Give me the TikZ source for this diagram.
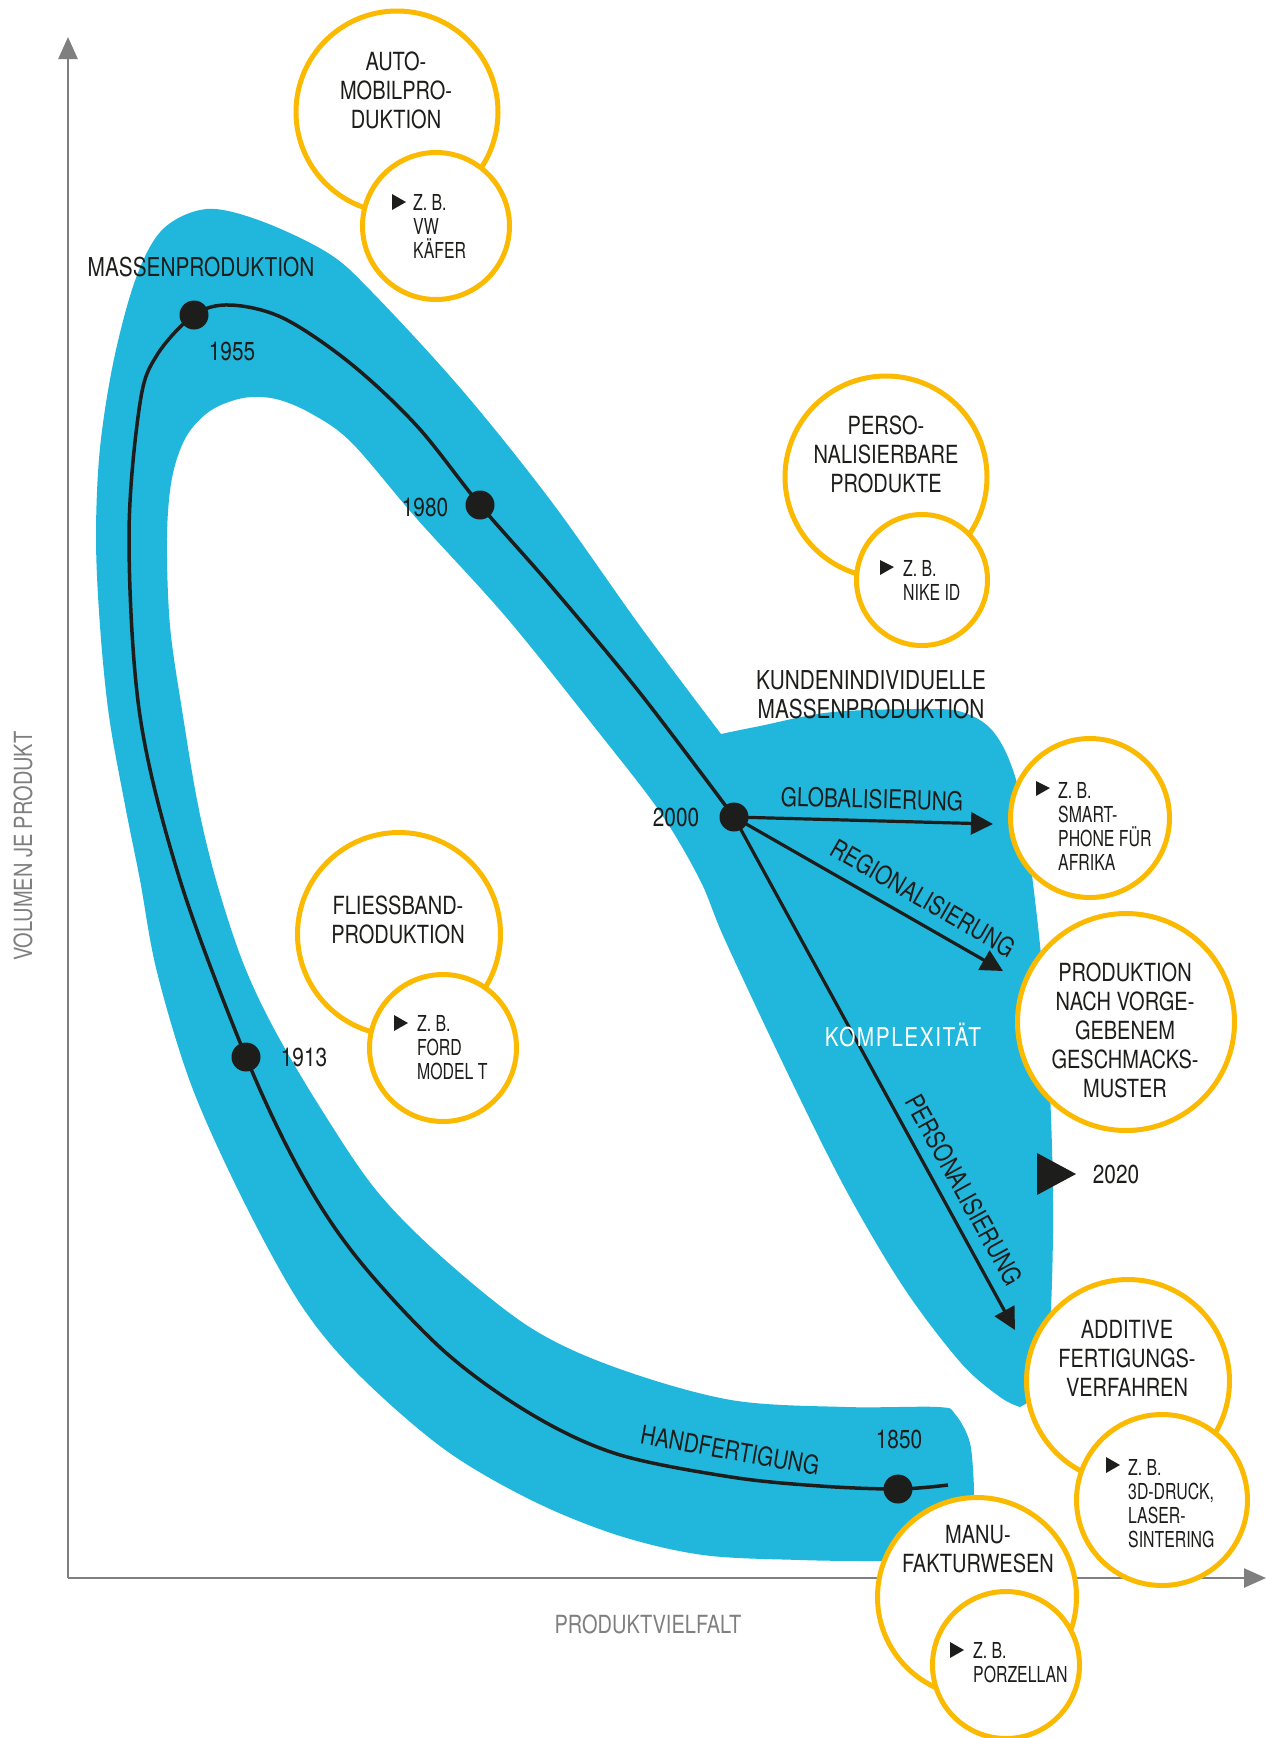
\documentclass[tikz,border=0pt]{standalone}
\usepackage{fontspec}
\setmainfont[FakeStretch=0.8]{TeX Gyre Heros}
\newfontfamily\smallfnt[FakeStretch=0.72]{TeX Gyre Heros}
\usetikzlibrary{arrows.meta}
\definecolor{blobblue}{HTML}{21B7DC}
\definecolor{ringyel}{HTML}{FBBA00}
\definecolor{ink}{HTML}{1D1D1B}
\definecolor{axisgray}{HTML}{7F7F7F}
\begin{document}
\begin{tikzpicture}[x=1pt,y=-1pt,
  bigring/.style={circle, draw=ringyel, line width=5pt, fill=white, inner sep=0pt},
  bigtext/.style={align=center, inner sep=0pt, text=ink, font=\fontsize{25pt}{29pt}\selectfont},
  smalltext/.style={anchor=north west, align=left, inner sep=0pt, text=ink, font=\smallfnt\fontsize{22pt}{24pt}\selectfont},
  lbl/.style={inner sep=0pt, text=ink, font=\fontsize{26pt}{29pt}\selectfont},
  axislbl/.style={inner sep=0pt, text=axisgray, font=\fontsize{25pt}{29pt}\selectfont},
  dot/.style={circle, fill=ink, inner sep=0pt, minimum size=29pt},
  axisline/.style={draw=axisgray, line width=2.5pt, -{Triangle[length=22pt,width=19pt]}},
  arrowline/.style={draw=ink, line width=3.2pt, -{Triangle[length=22pt,width=22pt]}}
]
\useasboundingbox (0,0) rectangle (1266,1738);
\fill[white] (0,0) rectangle (1266,1738);

% axes
\coordinate (origin) at (68,1578);
\coordinate (ytip) at (68,37);
\coordinate (xtip) at (1266,1578);
\draw[axisline] (origin) -- (ytip);
\draw[axisline] (origin) -- (xtip);
\node[axislbl, rotate=90] (ylab) at (23,846) {VOLUMEN JE PRODUKT};
\node[axislbl] (xlab) at (648,1624) {PRODUKTVIELFALT};

% blue band
\fill[blobblue] plot[smooth, tension=0.55] coordinates {(1020,1407) (1040,1390) (1049,1345) (1053,1232) (1051,1117) (1044,990) (1035,900) (1022,805) (1008,757) (990,728) (965,713) (933,709) (833,712) (760,726) (721,734)}
 -- plot[smooth, tension=0.55] coordinates {(721,734) (640,626) (551,501) (462,390) (372,292) (328,253) (261,221) (207,209) (163,229) (136,278) (114,359) (100,448) (96,537) (100,626) (109,716) (125,805) (140,880) (157,972) (192,1087) (244,1202) (301,1305) (358,1374) (444,1449) (531,1500) (617,1535) (703,1555) (800,1560) (875,1561) (945,1560) (968,1542) (974,1489)}
 -- plot[smooth, tension=0.55] coordinates {(974,1489) (970,1443) (955,1414) (938,1407) (846,1407) (731,1400) (617,1368) (531,1328) (444,1259) (376,1190) (318,1104) (272,1025) (242,960) (216,880) (198,805) (183,716) (170,626) (167,537) (172,478) (186,437) (210,411) (243,398) (276,399) (312,414) (352,443) (417,519) (506,617) (596,729) (660,812) (700,880) (725,940) (789,1076) (846,1190) (904,1288) (961,1363) (1000,1397) (1020,1407)} -- cycle;

% timeline points
\coordinate (p1850) at (898,1489);
\coordinate (p1913) at (246,1057);
\coordinate (p1955) at (194,315);
\coordinate (p1980) at (480,505);
\coordinate (p2000) at (734,817);
\coordinate (pend) at (948,1485);

\draw[ink, line width=3.5pt] plot[smooth, tension=0.55] coordinates {(pend) (p1850) (820,1486) (731,1477) (617,1454) (531,1414) (444,1351) (358,1259) (301,1173) (p1913) (180,880) (140,716) (129,537) (140,403) (157,355) (p1955) (230,305) (283,318) (350,363) (417,426) (p1980) (551,586) (640,693) (p2000)};

% arrows from 2000
\coordinate (tglob) at (993,824);
\coordinate (treg) at (1003,971);
\coordinate (tpers) at (1015,1330);
\draw[arrowline] (p2000) -- (tglob);
\draw[arrowline] (p2000) -- (treg);
\draw[arrowline] (p2000) -- (tpers);

% dots
\node[dot] (d1850) at (p1850) {};
\node[dot] (d1913) at (p1913) {};
\node[dot] (d1955) at (p1955) {};
\node[dot] (d1980) at (p1980) {};
\node[dot] (d2000) at (p2000) {};

% labels
\node[lbl] (massen) at (201,267) {MASSENPRODUKTION};
\node[lbl] (y1955) at (232,351) {1955};
\node[lbl] (y1980) at (425,507) {1980};
\node[lbl] (y2000) at (676,817) {2000};
\node[lbl] (y1913) at (304,1057) {1913};
\node[lbl] (y1850) at (899,1439) {1850};
\node[lbl, rotate=-10] (hand) at (730,1450) {HANDFERTIGUNG};
\node[lbl, align=center] (kunden) at (871,695) {KUNDENINDIVIDUELLE\\MASSENPRODUKTION};
\node[lbl, rotate=-1.5] (glob) at (872,799) {GLOBALISIERUNG};
\node[lbl, rotate=-30] (reg) at (923,898) {REGIONALISIERUNG};
\node[lbl, rotate=-61] (pers) at (964,1190) {PERSONALISIERUNG};
\node[lbl, text=white] (komp) at (903,1035) {\addfontfeature{LetterSpace=6}KOMPLEXITÄT};

% 2020 marker
\fill[ink] (1037,1153) -- (1076,1174) -- (1037,1195) -- cycle;
\node[lbl] (y2020) at (1116,1174) {2020};

% Automobilproduktion
\node[bigring, minimum size=202pt] (autoB) at (397,112) {};
\node[bigtext] (autoT) at (396,90) {AUTO-\\MOBILPRO-\\DUKTION};
\node[bigring, minimum size=147pt] (autoS) at (436,226) {};
\fill[ink] (392,194) -- (406,202) -- (392,210) -- cycle;
\node[smalltext] (autoX) at (413,194) {Z. B.\\VW\\KÄFER};

% Personalisierbare Produkte
\node[bigring, minimum size=202pt] (persB) at (886,477) {};
\node[bigtext] (persT) at (886,454) {PERSO-\\NALISIERBARE\\PRODUKTE};
\node[bigring, minimum size=131pt] (persS) at (922,580) {};
\fill[ink] (880,560) -- (894,567) -- (880,575) -- cycle;
\node[smalltext] (persX) at (903,560) {Z. B.\\NIKE ID};

% Smartphone
\node[bigring, minimum size=159pt] (smartS) at (1090,818) {};
\fill[ink] (1036,781) -- (1050,788) -- (1036,796) -- cycle;
\node[smalltext] (smartX) at (1058,782) {Z. B.\\SMART-\\PHONE FÜR\\AFRIKA};

% Produktion nach vorgegebenem Geschmacksmuster
\node[bigring, minimum size=217pt] (geschB) at (1126,1022) {};
\node[bigtext] (geschT) at (1125,1030) {PRODUKTION\\NACH VORGE-\\GEBENEM\\GESCHMACKS-\\MUSTER};

% Fliessbandproduktion
\node[bigring, minimum size=203pt] (fliessB) at (399,934) {};
\node[bigtext] (fliessT) at (398,920) {FLIESSBAND-\\PRODUKTION};
\node[bigring, minimum size=147pt] (fliessS) at (443,1048) {};
\fill[ink] (394,1015) -- (408,1023) -- (394,1031) -- cycle;
\node[smalltext] (fliessX) at (417,1015) {Z. B.\\FORD\\MODEL T};

% Additive Fertigungsverfahren
\node[bigring, minimum size=203pt] (addB) at (1128,1381) {};
\node[bigtext] (addT) at (1127,1358) {ADDITIVE\\FERTIGUNGS-\\VERFAHREN};
\node[bigring, minimum size=171pt] (addS) at (1162,1500) {};
\fill[ink] (1106,1457) -- (1120,1465) -- (1106,1473) -- cycle;
\node[smalltext] (addX) at (1128,1459) {Z. B.\\3D-DRUCK,\\LASER-\\SINTERING};

% Manufakturwesen
\node[bigring, minimum size=199pt] (manuB) at (977,1597) {};
\node[bigtext] (manuT) at (978,1549) {MANU-\\FAKTURWESEN};
\node[bigring, minimum size=147pt] (manuS) at (1006,1665) {};
\fill[ink] (950,1642) -- (964,1650) -- (950,1658) -- cycle;
\node[smalltext] (manuX) at (973,1642) {Z. B.\\PORZELLAN};
\end{tikzpicture}
\end{document}
